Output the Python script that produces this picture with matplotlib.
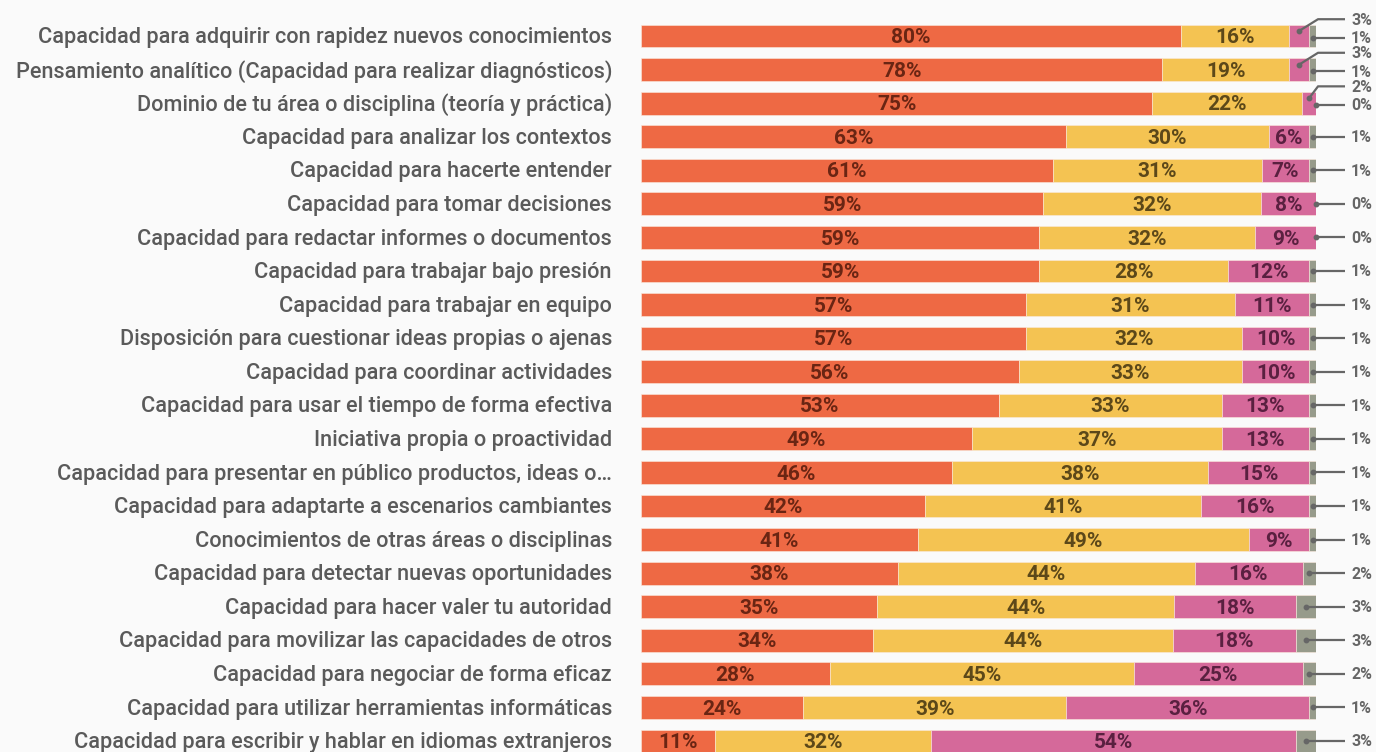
import matplotlib
matplotlib.use("Agg")
import matplotlib.pyplot as plt
import numpy as np

categories = [
    "Capacidad para adquirir con rapidez nuevos conocimientos",
    "Pensamiento analítico (Capacidad para realizar diagnósticos)",
    "Dominio de tu área o disciplina (teoría y práctica)",
    "Capacidad para analizar los contextos",
    "Capacidad para hacerte entender",
    "Capacidad para tomar decisiones",
    "Capacidad para redactar informes o documentos",
    "Capacidad para trabajar bajo presión",
    "Capacidad para trabajar en equipo",
    "Disposición para cuestionar ideas propias o ajenas",
    "Capacidad para coordinar actividades",
    "Capacidad para usar el tiempo de forma efectiva",
    "Iniciativa propia o proactividad",
    "Capacidad para presentar en público productos, ideas o…",
    "Capacidad para adaptarte a escenarios cambiantes",
    "Conocimientos de otras áreas o disciplinas",
    "Capacidad para detectar nuevas oportunidades",
    "Capacidad para hacer valer tu autoridad",
    "Capacidad para movilizar las capacidades de otros",
    "Capacidad para negociar de forma eficaz",
    "Capacidad para utilizar herramientas informáticas",
    "Capacidad para escribir y hablar en idiomas extranjeros",
]
orange = [80, 78, 75, 63, 61, 59, 59, 59, 57, 57, 56, 53, 49, 46, 42, 41, 38, 35, 34, 28, 24, 11]
yellow = [16, 19, 22, 30, 31, 32, 32, 28, 31, 32, 33, 33, 37, 38, 41, 49, 44, 44, 44, 45, 39, 32]
pink   = [3, 3, 2, 6, 7, 8, 9, 12, 11, 10, 10, 13, 13, 15, 16, 9, 16, 18, 18, 25, 36, 54]
gray   = [1, 1, 0, 1, 1, 0, 0, 1, 1, 1, 1, 1, 1, 1, 1, 1, 2, 3, 3, 2, 1, 3]

series = [orange, yellow, pink, gray]
colors = ["#EE6944", "#F4C352", "#D5699A", "#979B8B"]
text_colors = ["#6A2513", "#5C4819", "#5A2040", "#555555"]

BG = "#FAFAFA"
fig = plt.figure(figsize=(13.76, 7.52), dpi=100, facecolor=BG)
W, H = 1376, 752
n = len(categories)
row_px = 33.57
top_px = 36 - 0.5 * row_px
bot_px = top_px + n * row_px
ax = fig.add_axes([641 / W, (H - bot_px) / H, 675 / W, (bot_px - top_px) / H])
ax.set_facecolor(BG)

y = np.arange(n)
data = np.array(series, dtype=float)
tot = data.sum(axis=0)
norm = data / tot * 100

left = np.zeros(n)
for k in range(4):
    ax.barh(y, norm[k], left=left, height=0.68, color=colors[k],
            edgecolor="#FBE9DD", linewidth=0.4)
    left += norm[k]

ax.set_xlim(0, 100)
ax.set_ylim(n - 0.5, -0.5)
ax.axis("off")

label_font = "Roboto"
x_line_end = (1345 - 641) / 675 * 100
x_text = (1351 - 641) / 675 * 100

starts = np.vstack([np.zeros(n), np.cumsum(norm, axis=0)[:-1]])
for i in range(n):
    outside = []
    for k in range(4):
        v = data[k, i]
        mid = starts[k, i] + norm[k, i] / 2
        if k < 3 and v >= 5:
            ax.text(mid, y[i] + 0.05, f"{int(v)}%", ha="center", va="center",
                    fontsize=15, fontweight="bold", color=text_colors[k],
                    family=label_font)
        else:
            outside.append((k, mid, v))
    if len(outside) == 2:
        offsets = [-0.5, 0.05]
    else:
        offsets = [0.0]
    for (k, mid, v), off in zip(outside, offsets):
        ly = y[i] + off
        if off < -0.1:
            xs = [mid, 100.3, x_line_end]
            ys = [y[i] - 0.15, ly, ly]
            dot_y = y[i] - 0.15
        else:
            xs = [mid, x_line_end]
            ys = [ly, ly]
            dot_y = ly
        ax.plot(xs, ys, color="#666666", lw=1.6, clip_on=False,
                solid_capstyle="butt")
        ax.plot([mid], [dot_y], "o", color="#666666", ms=3.2, clip_on=False)
        ax.text(x_text, ly + 0.03, f"{int(v)}%", ha="left", va="center",
                fontsize=11.5, fontweight="bold", color="#666666",
                family=label_font, clip_on=False)

for i, c in enumerate(categories):
    ax.text(-(641 - 612) / 675 * 100, y[i] + 0.05, c, ha="right", va="center",
            fontsize=15.6, fontweight="medium", color="#5A5A5A",
            family=label_font, clip_on=False)

fig.savefig("out.png", dpi=100, facecolor=BG)
